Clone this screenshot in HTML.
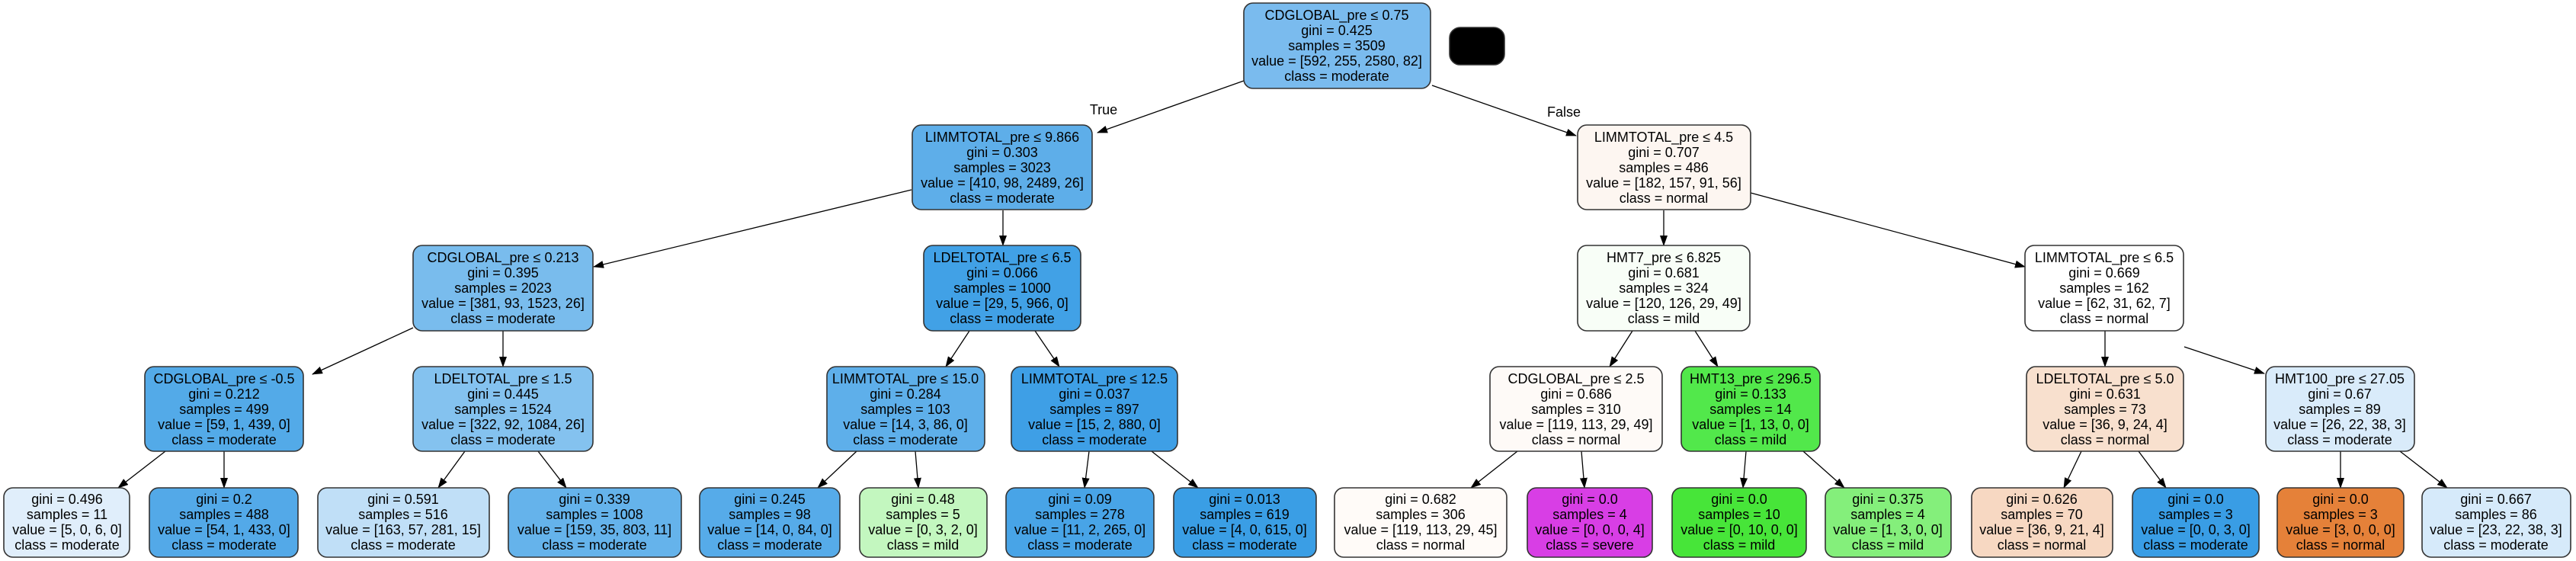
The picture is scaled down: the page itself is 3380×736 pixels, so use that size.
<!DOCTYPE html>
<html><head><meta charset="utf-8"><style>
html,body{margin:0;padding:0;background:#fff;}
svg{display:block;}
text{font-family:"Liberation Sans",sans-serif;font-size:18px;fill:#000;text-anchor:middle;}
rect{stroke:#333;stroke-width:1.6;}
line{stroke:#000;stroke-width:1.3;}
</style></head><body>
<svg width="3380" height="736" viewBox="0 0 3380 736" xmlns="http://www.w3.org/2000/svg">
<defs><marker id="a" markerWidth="14" markerHeight="10" refX="13" refY="5" orient="auto" markerUnits="userSpaceOnUse"><path d="M0,0 L14,5 L0,10 z" fill="#000"/></marker></defs>
<g marker-end="url(#a)">
<line x1="1632" y1="106" x2="1440" y2="174"/>
<line x1="1879" y1="112" x2="2068" y2="178"/>
<line x1="1196" y1="249" x2="779" y2="350"/>
<line x1="1316" y1="276" x2="1316" y2="322"/>
<line x1="2183" y1="276" x2="2183" y2="322"/>
<line x1="2297" y1="253" x2="2657" y2="350"/>
<line x1="542" y1="430" x2="410" y2="491"/>
<line x1="660" y1="434" x2="660" y2="481"/>
<line x1="1272" y1="434" x2="1241" y2="481"/>
<line x1="1358" y1="434" x2="1390" y2="481"/>
<line x1="217" y1="592" x2="155" y2="640"/>
<line x1="294" y1="592" x2="294" y2="640"/>
<line x1="610" y1="592" x2="575" y2="640"/>
<line x1="706" y1="592" x2="743" y2="640"/>
<line x1="1124" y1="592" x2="1073" y2="640"/>
<line x1="1201" y1="592" x2="1205" y2="640"/>
<line x1="1429" y1="592" x2="1423" y2="640"/>
<line x1="1511" y1="592" x2="1572" y2="640"/>
<line x1="2142" y1="434" x2="2112" y2="481"/>
<line x1="2224" y1="434" x2="2254" y2="481"/>
<line x1="2762" y1="434" x2="2762" y2="481"/>
<line x1="2866" y1="455" x2="2971" y2="490"/>
<line x1="1991" y1="592" x2="1930" y2="640"/>
<line x1="2075" y1="592" x2="2079" y2="640"/>
<line x1="2291" y1="592" x2="2287" y2="640"/>
<line x1="2366" y1="592" x2="2420" y2="640"/>
<line x1="2731" y1="592" x2="2708" y2="640"/>
<line x1="2806" y1="592" x2="2842" y2="640"/>
<line x1="3071" y1="592" x2="3071" y2="640"/>
<line x1="3149" y1="592" x2="3211" y2="640"/>
</g>
<text x="1448" y="150">True</text>
<text x="2052" y="153">False</text>
<rect x="1902" y="36" width="72" height="49" rx="14" fill="#000"/>

<!-- root -->
<rect x="1632" y="4" width="245" height="112" rx="12" fill="#7abbee"/>
<text x="1754" y="26">CDGLOBAL_pre ≤ 0.75</text><text x="1754" y="46">gini = 0.425</text><text x="1754" y="66">samples = 3509</text><text x="1754" y="86">value = [592, 255, 2580, 82]</text><text x="1754" y="106">class = moderate</text>

<!-- L1 -->
<rect x="1197" y="164" width="236" height="111" rx="12" fill="#5eaee9"/>
<text x="1315" y="186">LIMMTOTAL_pre ≤ 9.866</text><text x="1315" y="206">gini = 0.303</text><text x="1315" y="226">samples = 3023</text><text x="1315" y="246">value = [410, 98, 2489, 26]</text><text x="1315" y="266">class = moderate</text>
<rect x="2070" y="164" width="227" height="111" rx="12" fill="#fdf6f1"/>
<text x="2183" y="186">LIMMTOTAL_pre ≤ 4.5</text><text x="2183" y="206">gini = 0.707</text><text x="2183" y="226">samples = 486</text><text x="2183" y="246">value = [182, 157, 91, 56]</text><text x="2183" y="266">class = normal</text>

<!-- L2 -->
<rect x="542" y="322" width="236" height="112" rx="12" fill="#79bced"/>
<text x="660" y="344">CDGLOBAL_pre ≤ 0.213</text><text x="660" y="364">gini = 0.395</text><text x="660" y="384">samples = 2023</text><text x="660" y="404">value = [381, 93, 1523, 26]</text><text x="660" y="424">class = moderate</text>
<rect x="1212" y="322" width="206" height="112" rx="12" fill="#41a1e6"/>
<text x="1315" y="344">LDELTOTAL_pre ≤ 6.5</text><text x="1315" y="364">gini = 0.066</text><text x="1315" y="384">samples = 1000</text><text x="1315" y="404">value = [29, 5, 966, 0]</text><text x="1315" y="424">class = moderate</text>
<rect x="2070" y="322" width="226" height="112" rx="12" fill="#f8fef7"/>
<text x="2183" y="344">HMT7_pre ≤ 6.825</text><text x="2183" y="364">gini = 0.681</text><text x="2183" y="384">samples = 324</text><text x="2183" y="404">value = [120, 126, 29, 49]</text><text x="2183" y="424">class = mild</text>
<rect x="2657" y="322" width="208" height="112" rx="12" fill="#ffffff"/>
<text x="2761" y="344">LIMMTOTAL_pre ≤ 6.5</text><text x="2761" y="364">gini = 0.669</text><text x="2761" y="384">samples = 162</text><text x="2761" y="404">value = [62, 31, 62, 7]</text><text x="2761" y="424">class = normal</text>

<!-- L3 -->
<rect x="190" y="481" width="208" height="111" rx="12" fill="#53aae8"/>
<text x="294" y="503">CDGLOBAL_pre ≤ -0.5</text><text x="294" y="523">gini = 0.212</text><text x="294" y="543">samples = 499</text><text x="294" y="563">value = [59, 1, 439, 0]</text><text x="294" y="583">class = moderate</text>
<rect x="542" y="481" width="236" height="111" rx="12" fill="#84c2ef"/>
<text x="660" y="503">LDELTOTAL_pre ≤ 1.5</text><text x="660" y="523">gini = 0.445</text><text x="660" y="543">samples = 1524</text><text x="660" y="563">value = [322, 92, 1084, 26]</text><text x="660" y="583">class = moderate</text>
<rect x="1085" y="481" width="207" height="111" rx="12" fill="#5eafea"/>
<text x="1188" y="503">LIMMTOTAL_pre ≤ 15.0</text><text x="1188" y="523">gini = 0.284</text><text x="1188" y="543">samples = 103</text><text x="1188" y="563">value = [14, 3, 86, 0]</text><text x="1188" y="583">class = moderate</text>
<rect x="1327" y="481" width="218" height="111" rx="12" fill="#3e9fe6"/>
<text x="1436" y="503">LIMMTOTAL_pre ≤ 12.5</text><text x="1436" y="523">gini = 0.037</text><text x="1436" y="543">samples = 897</text><text x="1436" y="563">value = [15, 2, 880, 0]</text><text x="1436" y="583">class = moderate</text>
<rect x="1955" y="481" width="226" height="111" rx="12" fill="#fefaf7"/>
<text x="2068" y="503">CDGLOBAL_pre ≤ 2.5</text><text x="2068" y="523">gini = 0.686</text><text x="2068" y="543">samples = 310</text><text x="2068" y="563">value = [119, 113, 29, 49]</text><text x="2068" y="583">class = normal</text>
<rect x="2206" y="481" width="182" height="111" rx="12" fill="#52e84b"/>
<text x="2297" y="503">HMT13_pre ≤ 296.5</text><text x="2297" y="523">gini = 0.133</text><text x="2297" y="543">samples = 14</text><text x="2297" y="563">value = [1, 13, 0, 0]</text><text x="2297" y="583">class = mild</text>
<rect x="2659" y="481" width="206" height="111" rx="12" fill="#f8e0ce"/>
<text x="2762" y="503">LDELTOTAL_pre ≤ 5.0</text><text x="2762" y="523">gini = 0.631</text><text x="2762" y="543">samples = 73</text><text x="2762" y="563">value = [36, 9, 24, 4]</text><text x="2762" y="583">class = normal</text>
<rect x="2973" y="481" width="195" height="111" rx="12" fill="#d9ebfa"/>
<text x="3070" y="503">HMT100_pre ≤ 27.05</text><text x="3070" y="523">gini = 0.67</text><text x="3070" y="543">samples = 89</text><text x="3070" y="563">value = [26, 22, 38, 3]</text><text x="3070" y="583">class = moderate</text>

<!-- leaves -->
<rect x="5" y="640" width="165" height="91" rx="12" fill="#e0eefb"/>
<text x="88" y="661">gini = 0.496</text><text x="88" y="681">samples = 11</text><text x="88" y="701">value = [5, 0, 6, 0]</text><text x="88" y="721">class = moderate</text>
<rect x="196" y="640" width="195" height="91" rx="12" fill="#53a9e8"/>
<text x="294" y="661">gini = 0.2</text><text x="294" y="681">samples = 488</text><text x="294" y="701">value = [54, 1, 433, 0]</text><text x="294" y="721">class = moderate</text>
<rect x="417" y="640" width="225" height="91" rx="12" fill="#c0dff7"/>
<text x="529" y="661">gini = 0.591</text><text x="529" y="681">samples = 516</text><text x="529" y="701">value = [163, 57, 281, 15]</text><text x="529" y="721">class = moderate</text>
<rect x="667" y="640" width="227" height="91" rx="12" fill="#65b3eb"/>
<text x="780" y="661">gini = 0.339</text><text x="780" y="681">samples = 1008</text><text x="780" y="701">value = [159, 35, 803, 11]</text><text x="780" y="721">class = moderate</text>
<rect x="918" y="640" width="184" height="91" rx="12" fill="#56abe9"/>
<text x="1010" y="661">gini = 0.245</text><text x="1010" y="681">samples = 98</text><text x="1010" y="701">value = [14, 0, 84, 0]</text><text x="1010" y="721">class = moderate</text>
<rect x="1128" y="640" width="167" height="91" rx="12" fill="#c3f7bf"/>
<text x="1211" y="661">gini = 0.48</text><text x="1211" y="681">samples = 5</text><text x="1211" y="701">value = [0, 3, 2, 0]</text><text x="1211" y="721">class = mild</text>
<rect x="1320" y="640" width="194" height="91" rx="12" fill="#48a4e7"/>
<text x="1417" y="661">gini = 0.09</text><text x="1417" y="681">samples = 278</text><text x="1417" y="701">value = [11, 2, 265, 0]</text><text x="1417" y="721">class = moderate</text>
<rect x="1540" y="640" width="187" height="91" rx="12" fill="#3a9ee5"/>
<text x="1633" y="661">gini = 0.013</text><text x="1633" y="681">samples = 619</text><text x="1633" y="701">value = [4, 0, 615, 0]</text><text x="1633" y="721">class = moderate</text>
<rect x="1751" y="640" width="226" height="91" rx="12" fill="#fffbf8"/>
<text x="1864" y="661">gini = 0.682</text><text x="1864" y="681">samples = 306</text><text x="1864" y="701">value = [119, 113, 29, 45]</text><text x="1864" y="721">class = normal</text>
<rect x="2004" y="640" width="164" height="91" rx="12" fill="#d83ee5"/>
<text x="2086" y="661">gini = 0.0</text><text x="2086" y="681">samples = 4</text><text x="2086" y="701">value = [0, 0, 0, 4]</text><text x="2086" y="721">class = severe</text>
<rect x="2194" y="640" width="176" height="91" rx="12" fill="#47e539"/>
<text x="2282" y="661">gini = 0.0</text><text x="2282" y="681">samples = 10</text><text x="2282" y="701">value = [0, 10, 0, 0]</text><text x="2282" y="721">class = mild</text>
<rect x="2395" y="640" width="165" height="91" rx="12" fill="#84ef7b"/>
<text x="2477" y="661">gini = 0.375</text><text x="2477" y="681">samples = 4</text><text x="2477" y="701">value = [1, 3, 0, 0]</text><text x="2477" y="721">class = mild</text>
<rect x="2587" y="640" width="185" height="91" rx="12" fill="#f7d8c2"/>
<text x="2679" y="661">gini = 0.626</text><text x="2679" y="681">samples = 70</text><text x="2679" y="701">value = [36, 9, 21, 4]</text><text x="2679" y="721">class = normal</text>
<rect x="2798" y="640" width="166" height="91" rx="12" fill="#399de5"/>
<text x="2881" y="661">gini = 0.0</text><text x="2881" y="681">samples = 3</text><text x="2881" y="701">value = [0, 0, 3, 0]</text><text x="2881" y="721">class = moderate</text>
<rect x="2988" y="640" width="166" height="91" rx="12" fill="#e58139"/>
<text x="3071" y="661">gini = 0.0</text><text x="3071" y="681">samples = 3</text><text x="3071" y="701">value = [3, 0, 0, 0]</text><text x="3071" y="721">class = normal</text>
<rect x="3178" y="640" width="195" height="91" rx="12" fill="#d6eafa"/>
<text x="3275" y="661">gini = 0.667</text><text x="3275" y="681">samples = 86</text><text x="3275" y="701">value = [23, 22, 38, 3]</text><text x="3275" y="721">class = moderate</text>
</svg>
</body></html>
